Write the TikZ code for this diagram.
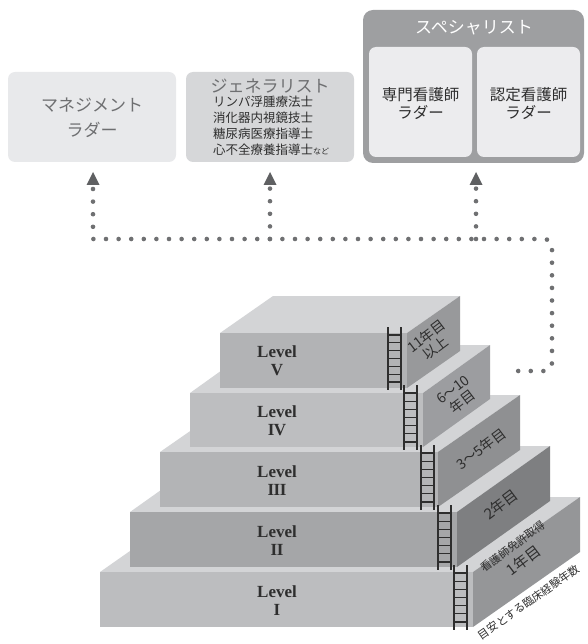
\documentclass[tikz,border=0pt]{standalone}
\usepackage{fontspec}
\setmainfont{Liberation Serif}
\newfontfamily\jp{Noto Sans CJK JP}
\usetikzlibrary{calc}
\definecolor{boxA}{HTML}{E8E9EB}
\definecolor{boxB}{HTML}{D6D7D9}
\definecolor{specc}{HTML}{9E9FA1}
\definecolor{specin}{HTML}{ECECEE}
\definecolor{txtgray}{HTML}{6E6F71}
\definecolor{darktxt}{HTML}{2E2E2E}
\definecolor{dotc}{HTML}{6F7072}
\definecolor{tric}{HTML}{5F6062}
\definecolor{topc}{HTML}{D3D4D6}
\definecolor{frontI}{HTML}{BCBDBF}
\definecolor{frontII}{HTML}{A5A6A8}
\definecolor{frontIII}{HTML}{B3B4B6}
\definecolor{frontIV}{HTML}{BDBEC0}
\definecolor{frontV}{HTML}{B2B3B5}
\definecolor{sideI}{HTML}{959698}
\definecolor{sideII}{HTML}{7E7F81}
\definecolor{sideIII}{HTML}{8F9092}
\definecolor{sideIV}{HTML}{9C9DA0}
\definecolor{sideV}{HTML}{98999B}
\newcommand\blockk[8]{%
  \fill[topc] (#1,#3) -- (#2,#3) -- ({#2+#5},{#3-#6}) -- ({#1+#5},{#3-#6}) -- cycle;
  \fill[#7] (#1,#3) rectangle (#2,#4);
  \fill[#8] (#2,#3) -- ({#2+#5},{#3-#6}) -- ({#2+#5},{#4-#6}) -- (#2,#4) -- cycle;
}
\newcommand\ladderr[3]{%
  \draw[rail] (#1,#2) -- (#1,#3) ({#1+13},#2) -- ({#1+13},#3);
  \foreach \k in {1,...,7}{\draw[rung] (#1,{#2+\k*(#3-#2)/8}) -- ({#1+13},{#2+\k*(#3-#2)/8});}
}
\begin{document}
\begin{tikzpicture}[x=1pt,y=-1pt,
  box/.style={rounded corners=7pt, inner sep=0pt},
  mgmtbox/.style={box, fill=boxA, minimum width=168pt, minimum height=90pt},
  genbox/.style={box, fill=boxB, minimum width=168pt, minimum height=90pt},
  specbox/.style={rounded corners=10pt, inner sep=0pt, fill=specc, minimum width=221pt, minimum height=153pt},
  inbox/.style={box, fill=specin, minimum width=103pt, minimum height=110pt},
  bigtxt/.style={font=\jp\fontsize{17}{25}\selectfont, align=center, inner sep=0pt},
  listtxt/.style={font=\jp\fontsize{12.5}{16}\selectfont, align=left, inner sep=0pt, text=darktxt},
  intxt/.style={font=\jp\fontsize{15.5}{17.5}\selectfont, align=center, inner sep=0pt, text=darktxt},
  lvl/.style={font=\bfseries\fontsize{17}{18}\selectfont, align=center, inner sep=0pt, text=darktxt},
  sidetxt/.style={font=\jp\fontsize{14}{15}\selectfont, align=center, inner sep=0pt, text=darktxt, rotate=37},
  rail/.style={line width=1.5pt, draw=darktxt},
  rung/.style={line width=1.3pt, draw=darktxt},
  dotline/.style={draw=dotc, line width=4.6pt, line cap=round, dash pattern=on 0pt off 12.6pt},
]
\useasboundingbox (0,0) rectangle (587,644);

% top boxes
\node[mgmtbox] (mgmt) at (92,117) {};
\node[bigtxt, text=txtgray] (mgmtt) at (92,117.5) {マネジメント\\ラダー};
\node[genbox] (gen) at (270,117) {};
\node[bigtxt, text=txtgray] (gent) at (270,86) {ジェネラリスト};
\node[listtxt, anchor=north west] (genl) at (213,96) {リンパ浮腫療法士\\消化器内視鏡技士\\糖尿病医療指導士\\心不全療養指導士{\fontsize{8}{8}\selectfont など}};
\node[specbox] (spec) at (473.5,86.5) {};
\node[bigtxt, text=white] (spect) at (474,28) {スペシャリスト};
\node[inbox] (cns) at (420.5,102) {};
\node[inbox] (cn) at (528.5,102) {};
\node[intxt] (cnst) at (420.5,103.5) {専門看護師\\ラダー};
\node[intxt] (cnt) at (528.5,103.5) {認定看護師\\ラダー};

% arrowheads
\coordinate (a1) at (93,185);
\coordinate (a2) at (270,185);
\coordinate (a3) at (476,185);
\foreach \c in {a1,a2,a3}{\fill[tric] ($(\c)+(0,-13)$) -- ($(\c)+(6.5,0)$) -- ($(\c)+(-6.5,0)$) -- cycle;}

% dotted connectors
\coordinate (d1) at (93,189);
\coordinate (j1) at (93,239);
\coordinate (j2) at (270,239);
\coordinate (j3) at (476,239);
\coordinate (c1) at (552,239);
\coordinate (c2) at (552,371);
\coordinate (s) at (512,371);
\draw[dotline] (d1) -- (j1) {[rounded corners=8pt] -- (c1) -- (c2)} -- (s);
\draw[dotline] (j2) -- ($(a2)+(0,3.5)$);
\draw[dotline] (j3) -- ($(a3)+(0,3.5)$);

% pyramid blocks
\blockk{100}{473}{572}{627}{107}{75}{frontI}{sideI}
\blockk{130}{457}{512}{567}{93}{66}{frontII}{sideII}
\blockk{160}{438}{452}{507}{82}{57}{frontIII}{sideIII}
\blockk{190}{423}{393}{447}{67}{48}{frontIV}{sideIV}
\blockk{220}{407}{333}{388}{53}{37}{frontV}{sideV}

% ladders
\ladderr{388}{327}{390}
\ladderr{404}{385}{450}
\ladderr{421}{445}{510}
\ladderr{438}{505}{570}
\ladderr{454}{565}{630}

% level labels
\node[lvl] (lv5) at (277,361) {Level\\V};
\node[lvl] (lv4) at (277,420.5) {Level\\I\kern-0.5pt V};
\node[lvl] (lv3) at (277,480.5) {Level\\I\kern-0.5pt I\kern-0.5pt I};
\node[lvl] (lv2) at (277,540.5) {Level\\I\kern-0.5pt I};
\node[lvl] (lv1) at (277,601) {Level\\I};

% side texts
\node[sidetxt] (y5) at (431,342) {11年目\\以上};
\node[sidetxt] (y4) at (458,396) {6〜10\\年目};
\node[sidetxt] (y3) at (481,449) {3〜5年目};
\node[sidetxt, font=\jp\fontsize{15}{15}\selectfont] (y2) at (501,504) {2年目};
\node[sidetxt, font=\jp\fontsize{11}{19}\selectfont] (y1) at (519,554) {看護師免許取得\\{\fontsize{15}{15}\selectfont 1年目}};
\node[sidetxt, font=\jp\fontsize{11}{11}\selectfont, rotate=-2] (yb) at (529,602) {目安とする臨床経験年数};
\end{tikzpicture}
\end{document}
